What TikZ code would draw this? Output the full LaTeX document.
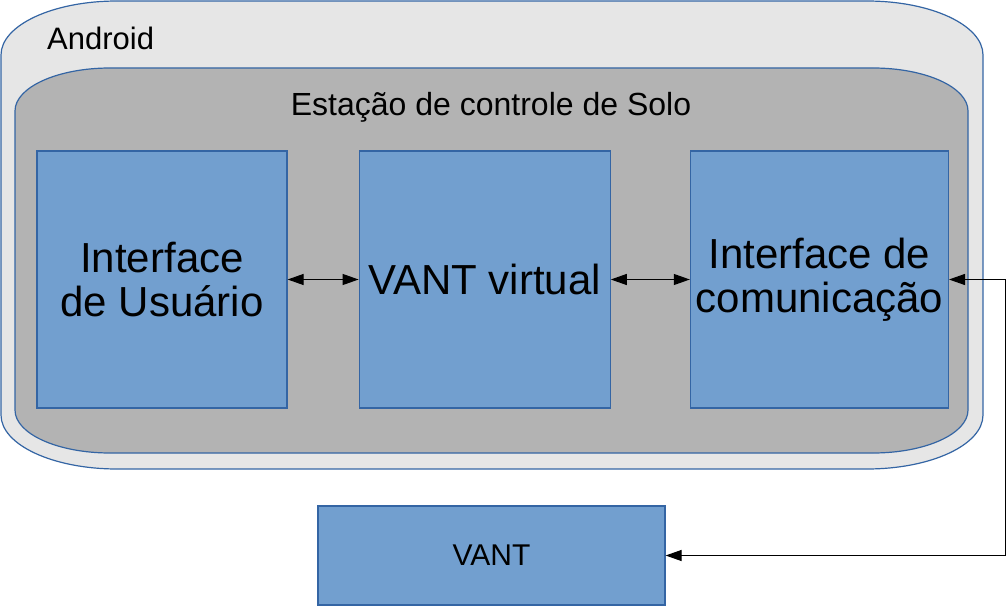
\documentclass[tikz,border=0pt]{standalone}
\usepackage{fontspec}
\setmainfont{Liberation Sans}
\usepackage{xcolor}
\usetikzlibrary{positioning}
\usetikzlibrary{arrows.meta}
\usetikzlibrary{calc}

\definecolor{androidgray}{HTML}{E6E6E6}
\definecolor{stationgray}{HTML}{B3B3B3}
\definecolor{boxblue}{HTML}{729FCF}
\definecolor{lineblue}{HTML}{3465A4}

\begin{document}
\begin{tikzpicture}[x=1pt,y=1pt,>={Triangle[length=16pt,width=11pt]},
                    module/.style={rectangle,draw=lineblue,fill=boxblue,line width=1.2pt,
                                   minimum height=257pt,align=center,inner sep=0pt,
                                   font=\fontsize{42}{44}\selectfont},
                    link/.style={<->,line width=1.1pt}]
      \useasboundingbox (0,0) rectangle (1006,606);

      % Android container
      \draw[draw=lineblue,fill=androidgray,line width=1.2pt]
        (117,605) -- (867,605) arc[start angle=90,end angle=0,x radius=116,y radius=54]
        -- (983,191) arc[start angle=0,end angle=-90,x radius=116,y radius=54]
        -- (117,137) arc[start angle=-90,end angle=-180,x radius=116,y radius=54]
        -- (1,551) arc[start angle=180,end angle=90,x radius=116,y radius=54] -- cycle;
      \node[anchor=base west,inner sep=0pt,font=\fontsize{31}{33}\selectfont] (android) at (47,556) {Android};

      % ground station
      \draw[draw=lineblue,fill=stationgray,line width=1.2pt]
        (110,538) -- (873,538) arc[start angle=90,end angle=0,x radius=95,y radius=43]
        -- (968,196) arc[start angle=0,end angle=-90,x radius=95,y radius=43]
        -- (110,153) arc[start angle=-90,end angle=-180,x radius=95,y radius=43]
        -- (15,495) arc[start angle=180,end angle=90,x radius=95,y radius=43] -- cycle;
      \node[anchor=base,font=\fontsize{32}{34}\selectfont] (station) at (491,490) {Estação de controle de Solo};

      \node[module,minimum width=250pt] (ui) at (162,326.5) {Interface\\de Usuário};
      \node[module,minimum width=251pt] (vv) [right=71pt of ui] {VANT virtual};
      \node[module,minimum width=258pt] (ci) [right=79pt of vv] {Interface de\\comunicação};
      \node[rectangle,draw=lineblue,fill=boxblue,line width=1.2pt,minimum width=347pt,
            minimum height=99pt,font=\fontsize{30}{32}\selectfont] (vant) at (491.5,50.5) {VANT};

      \path[link]
	(ui) edge (vv)
	(vv) edge (ci);
      \draw[link] (ci.east) -- ++(56.5,0) |- (vant.east);

    \end{tikzpicture}
\end{document}
